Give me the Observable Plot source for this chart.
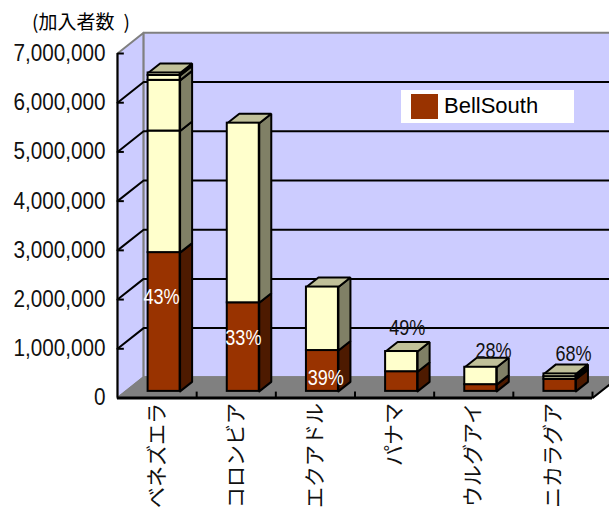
<!DOCTYPE html>
<html lang="ja">
<head>
<meta charset="utf-8">
<script src="https://cdn.jsdelivr.net/npm/d3@7"></script>
<script src="https://cdn.jsdelivr.net/npm/@observablehq/plot@0.6"></script>
<style>
  html, body { margin: 0; padding: 0; background: #fff; overflow: hidden; }
  #chart { position: relative; width: 609px; height: 508px; }
  #unit { position: absolute; left: 32px; top: 11px; font: 19px/20px "Noto Sans CJK JP"; color: #000; white-space: pre; }
  #unit u { text-decoration: none; margin-left: 9px; }
  #legend { position: absolute; left: 401px; top: 90px; width: 173px; height: 33px; background: #fff;
            font: 22px "Liberation Sans"; color: #000; }
  #legend i { position: absolute; left: 10px; top: 4px; width: 27px; height: 25px; background: #993300; }
  #legend span { position: absolute; left: 43px; top: 3px; }
</style>
</head>
<body>
<div id="chart"></div>
<script>
// Subscribers per country; the lowest band of each column is BellSouth.
const countries = ["ベネズエラ", "コロンビア", "エクアドル", "パナマ", "ウルグアイ", "ニカラグア"];
const bellSouth = [2820000, 1800000, 830000, 400000, 137000, 245000];
const carrierB  = [2470000, 3650000, 1290000, 410000, 353000, 55000];
const carrierC  = [1030000, 0, 0, 0, 0, 0];
const carrierD  = [100000, 0, 0, 0, 0, 55000];
const carrierE  = [50000, 0, 0, 0, 0, 0];
const shares    = ["43%", "33%", "39%", "49%", "28%", "68%"];
const yTicks    = [0, 1000000, 2000000, 3000000, 4000000, 5000000, 6000000, 7000000];

// Label anchors, in category widths and subscribers.
const shareX = [0.556, 0.59, 0.63, 0.66, 0.75, 0.76];
const shareY = [2050000, 1210000, 400000, 1430000, 950000, 900000];

const colors = {
  wall: "#ccccff", floor: "#808080", edge: "#808080",
  brown: "#993300", brownSide: "#4d1a00",
  cream: "#ffffcc", creamSide: "#808066", creamTop: "#c0c099"
};

// Oblique projection: depth z (0 front, 1 back) shifts a point along x and y.
const depthX = 0.33, depthY = 420000;
const px = (x, z) => x + z * depthX;
const py = (v, z) => v + z * depthY;
const poly = (id, fill, pts) =>
  [...pts, pts[0]].map(([x, v, z]) => ({id, fill, x: px(x, z), y: py(v, z)}));

const n = countries.length, yMax = d3.max(yTicks);
const walls = [
  ...poly("left", colors.wall, [[0,0,0],[0,yMax,0],[0,yMax,1],[0,0,1]]),
  ...poly("back", colors.wall, [[0,0,1],[0,yMax,1],[n,yMax,1],[n,0,1]])
];
const floorFace = poly("floor", colors.floor, [[0,0,0],[n,0,0],[n,0,1],[0,0,1]]);

// Stack the bands and extrude each one between two depths.
const barLeft = 0.281, barWidth = 0.404, zFront = 0.32, zBack = 0.78;
const sideFaces = [], frontFaces = [];
countries.forEach((name, i) => {
  const x0 = i + barLeft, x1 = x0 + barWidth;
  let base = 0;
  const bands = [bellSouth[i], carrierB[i], carrierC[i], carrierD[i], carrierE[i]];
  bands.forEach((value, b) => {
    if (!value) return;
    const tip = base + value;
    const lit = b === 0 ? colors.brownSide : colors.creamSide;
    sideFaces.push(...poly(`s${i}-${b}`, lit, [[x1,base,zFront],[x1,tip,zFront],[x1,tip,zBack],[x1,base,zBack]]));
    frontFaces.push({
      x1: px(x0, zFront), x2: px(x1, zFront),
      y1: py(base, zFront), y2: py(tip, zFront),
      fill: b === 0 ? colors.brown : colors.cream
    });
    base = tip;
  });
  sideFaces.push(...poly(`t${i}`, colors.creamTop, [[x0,base,zFront],[x1,base,zFront],[x1,base,zBack],[x0,base,zBack]]));
});

const gridValues = yTicks.filter(v => v > 0 && v < yMax);
const gridLines = gridValues.flatMap((v, i) => [
  {id: i, x: px(0, 0), y: py(v, 0)},
  {id: i, x: px(0, 1), y: py(v, 1)},
  {id: i, x: px(n, 1), y: py(v, 1)}
]);

const shareRows = shares.map((label, i) => ({label, x: i + shareX[i], y: shareY[i], inside: i < 3}));

const plot = Plot.plot({
  width: 609,
  height: 508,
  marginLeft: 117,
  marginRight: 17,
  marginTop: 53,
  marginBottom: 110.5,
  x: {domain: [0, n], axis: null},
  y: {domain: [0, yMax], axis: null},
  color: {type: "identity"},
  style: {background: "#fff", overflow: "hidden"},
  marks: [
    Plot.line(walls, {x: "x", y: "y", z: "id", fill: "fill", stroke: colors.edge, strokeWidth: 2}),
    Plot.line(floorFace, {x: "x", y: "y", z: "id", fill: "fill", stroke: colors.edge, strokeWidth: 2}),
    Plot.line(gridLines, {x: "x", y: "y", z: "id", stroke: "#000", strokeWidth: 2}),
    Plot.line(sideFaces, {x: "x", y: "y", z: "id", fill: "fill", stroke: "#000", strokeWidth: 2, strokeLinejoin: "miter"}),
    Plot.rect(frontFaces, {x1: "x1", x2: "x2", y1: "y1", y2: "y2", fill: "fill", stroke: "#000", strokeWidth: 2}),
    // Front frame of the plot box and its inward ticks.
    Plot.ruleX([0], {y1: 0, y2: yMax, stroke: "#000", strokeWidth: 2}),
    Plot.ruleY([0], {x1: 0, x2: n, stroke: "#000", strokeWidth: 3}),
    Plot.link([[n, 0, px(n, 1), py(0, 1)]], {x1: d => d[0], y1: d => d[1], x2: d => d[2], y2: d => d[3], stroke: "#000", strokeWidth: 2}),
    Plot.link(yTicks, {x1: () => 0, x2: () => 0.08, y1: d => d, y2: d => d, stroke: "#000", strokeWidth: 2}),
    Plot.link(d3.range(1, n + 1), {x1: d => d, x2: d => d, y1: () => 0, y2: () => 130000, stroke: "#000", strokeWidth: 2}),
    Plot.text(shareRows, {
      x: "x", y: "y", text: "label",
      fill: d => d.inside ? "#fff" : "#111",
      fontFamily: "Liberation Sans", fontSize: 22, className: "share"
    }),
    Plot.axisY({
      ticks: yTicks, tickFormat: d3.format(","), tickSize: 0, tickPadding: 12,
      label: null, fontFamily: "Liberation Sans", fontSize: 23, fill: "#111", className: "values"
    }),
    Plot.axisX({
      ticks: d3.range(n).map(i => i + 0.5), tickFormat: d => countries[d - 0.5],
      tickSize: 0, tickPadding: 5, tickRotate: -90,
      label: null, fontFamily: "Noto Sans CJK JP", fontSize: 21, fill: "#111"
    })
  ]
});

const chart = document.getElementById("chart");
chart.append(plot);
chart.insertAdjacentHTML("beforeend",
  '<div id="unit">(加入者数<u>)</u></div><div id="legend"><i></i><span>BellSouth</span></div>');

// The Latin labels use condensed glyphs.
const condense = (selector, ratio) => plot.querySelectorAll(selector).forEach(t => {
  t.setAttribute("textLength", t.getComputedTextLength() * ratio);
  t.setAttribute("lengthAdjust", "spacingAndGlyphs");
});
condense(".share text, text.share", 0.82);
condense(".values text, text.values", 0.9);
</script>
</body>
</html>
